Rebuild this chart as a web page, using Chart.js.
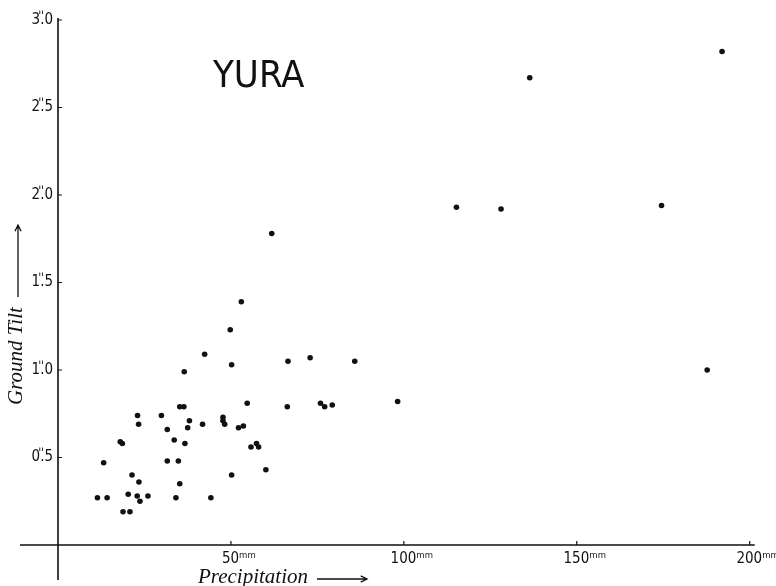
<!DOCTYPE html>
<html lang="en">
<head>
<meta charset="UTF-8">
<title>Yura - Ground Tilt vs Precipitation</title>
<script src="https://cdn.jsdelivr.net/npm/chart.js"></script>
<style>
  html, body { margin: 0; padding: 0; background: #fff; }
</style>
</head>
<body>
<canvas id="tiltChart" width="776" height="586"></canvas>
<script>
const stationName = 'YURA';
const xTitle = 'Precipitation';
const yTitle = 'Ground Tilt';

// precipitation (mm) and ground tilt (seconds of arc)
const precipitation = [
  192.0, 136.4, 115.2, 128.1, 174.5, 187.7, 61.8, 53.0, 49.8, 42.4,
  50.2, 66.5, 72.9, 85.8, 36.5, 54.7, 66.3, 75.9, 77.1, 79.3,
  98.2, 47.7, 47.7, 48.2, 52.2, 53.6, 57.4, 58.0, 55.8, 60.1,
  50.2, 35.2, 36.4, 23.0, 29.9, 23.3, 38.0, 37.5, 41.8, 31.6,
  18.0, 18.6, 33.6, 36.7, 13.2, 31.6, 34.8, 21.4, 23.4, 35.2,
  11.4, 14.2, 20.3, 22.9, 26.0, 23.7, 34.1, 44.2, 18.8, 20.8
];
const groundTilt = [
  2.82, 2.67, 1.93, 1.92, 1.94, 1.00, 1.78, 1.39, 1.23, 1.09,
  1.03, 1.05, 1.07, 1.05, 0.99, 0.81, 0.79, 0.81, 0.79, 0.80,
  0.82, 0.73, 0.71, 0.69, 0.67, 0.68, 0.58, 0.56, 0.56, 0.43,
  0.40, 0.79, 0.79, 0.74, 0.74, 0.69, 0.71, 0.67, 0.69, 0.66,
  0.59, 0.58, 0.60, 0.58, 0.47, 0.48, 0.48, 0.40, 0.36, 0.35,
  0.27, 0.27, 0.29, 0.28, 0.28, 0.25, 0.27, 0.27, 0.19, 0.19
];

const xTickValues = [50, 100, 150, 200];
const xTickLabels = ['50ᵐᵐ', '100ᵐᵐ', '150ᵐᵐ', '200ᵐᵐ'];
const yTickValues = [0.5, 1.0, 1.5, 2.0, 2.5, 3.0];
const yTickLabels = ['0.\u030E5', '1.\u030E0', '1.\u030E5', '2.\u030E0', '2.\u030E5', '3.\u030E0'];

const ink = '#111';
const tickFont = { family: '"DejaVu Sans Condensed", "DejaVu Sans", sans-serif', size: 15 };

function arrow(ctx, x1, y1, x2, y2) {
  const ang = Math.atan2(y2 - y1, x2 - x1);
  ctx.beginPath();
  ctx.moveTo(x1, y1);
  ctx.lineTo(x2, y2);
  ctx.moveTo(x2 - 7 * Math.cos(ang - 0.45), y2 - 7 * Math.sin(ang - 0.45));
  ctx.lineTo(x2, y2);
  ctx.lineTo(x2 - 7 * Math.cos(ang + 0.45), y2 - 7 * Math.sin(ang + 0.45));
  ctx.stroke();
}

// axes that run past the origin, inward ticks, name and axis titles
const decorations = {
  id: 'decorations',
  afterDraw(chart) {
    const { ctx, chartArea: a, scales: { x, y } } = chart;
    ctx.save();
    ctx.strokeStyle = ink;
    ctx.fillStyle = ink;
    ctx.lineWidth = 1.6;
    ctx.beginPath();
    ctx.moveTo(20, a.bottom);
    ctx.lineTo(a.right + 5, a.bottom);
    ctx.moveTo(a.left, a.top - 2);
    ctx.lineTo(a.left, a.bottom + 35);
    ctx.stroke();

    ctx.lineWidth = 1.2;
    ctx.beginPath();
    xTickValues.forEach(v => {
      const px = x.getPixelForValue(v);
      ctx.moveTo(px, a.bottom);
      ctx.lineTo(px, a.bottom - 4);
    });
    yTickValues.forEach(v => {
      const py = y.getPixelForValue(v);
      ctx.moveTo(a.left, py);
      ctx.lineTo(a.left + 4, py);
    });
    ctx.stroke();

    ctx.font = '38px "Liberation Sans Narrow", "DejaVu Sans Condensed", sans-serif';
    ctx.textBaseline = 'alphabetic';
    ctx.fillText(stationName, 213, 87);

    ctx.font = 'italic 21px "Liberation Serif", serif';
    ctx.fillText(xTitle, 198, 583);
    ctx.lineWidth = 1.3;
    arrow(ctx, 317, 579, 367, 579);

    ctx.save();
    ctx.translate(22, 405);
    ctx.rotate(-Math.PI / 2);
    ctx.fillText(yTitle, 0, 0);
    ctx.restore();
    arrow(ctx, 18, 297, 18, 225);
    ctx.restore();
  }
};

new Chart(document.getElementById('tiltChart'), {
  type: 'scatter',
  data: {
    datasets: [{
      label: stationName,
      data: precipitation.map((p, i) => ({ x: p, y: groundTilt[i] })),
      backgroundColor: ink,
      borderColor: ink,
      pointRadius: 2.8,
      pointBorderWidth: 0
    }]
  },
  options: {
    responsive: false,
    animation: false,
    devicePixelRatio: 1,
    layout: { padding: { left: 8, top: 20, right: 25, bottom: 0 } },
    plugins: { legend: { display: false }, tooltip: { enabled: false } },
    scales: {
      x: {
        type: 'linear', min: 0, max: 200,
        grid: { display: false, drawTicks: false }, border: { display: false },
        afterBuildTicks: s => { s.ticks = xTickValues.map(v => ({ value: v })); },
        afterFit: s => { s.height = 41; },
        ticks: {
          color: ink, font: tickFont, padding: 5, labelOffset: 8,
          maxRotation: 0, autoSkip: false,
          callback: (v, i) => xTickLabels[i]
        }
      },
      y: {
        type: 'linear', min: 0, max: 3,
        grid: { display: false, drawTicks: false }, border: { display: false },
        afterBuildTicks: s => { s.ticks = yTickValues.map(v => ({ value: v })); },
        afterFit: s => { s.width = 50; },
        ticks: {
          color: ink, font: tickFont, padding: 5,
          callback: (v, i) => yTickLabels[i]
        }
      }
    }
  },
  plugins: [decorations]
});
</script>
</body>
</html>
